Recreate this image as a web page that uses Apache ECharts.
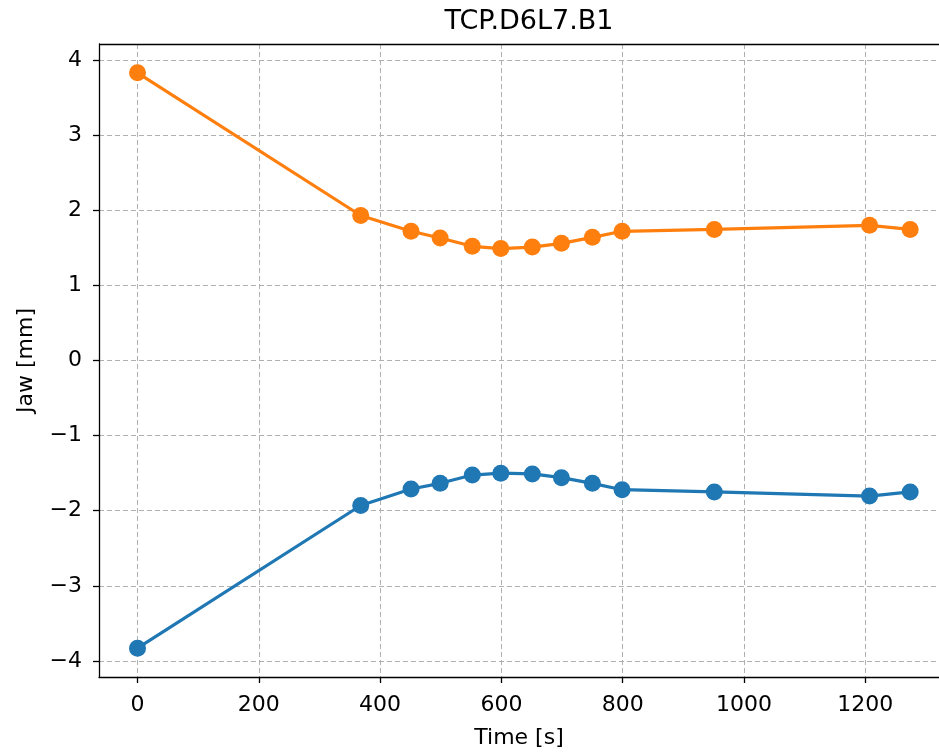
<!DOCTYPE html>
<html>
<head>
<meta charset="utf-8">
<script src="https://cdn.jsdelivr.net/npm/echarts@6/dist/echarts.min.js"></script>
<style>html,body{margin:0;padding:0;background:#fff;}#c{width:939px;height:754px;}</style>
</head>
<body>
<div id="c"></div>
<script>
const titleText = 'TCP.D6L7.B1';
const xName = 'Time [s]';
const yName = 'Jaw [mm]';
const times = [0, 368, 451, 499, 552, 599, 651, 699, 750, 799, 951, 1207, 1274];
const jawUpper = [3.83, 1.93, 1.72, 1.63, 1.52, 1.49, 1.51, 1.56, 1.64, 1.72, 1.745, 1.80, 1.745];
const jawLower = [-3.83, -1.93, -1.71, -1.635, -1.525, -1.50, -1.51, -1.56, -1.635, -1.72, -1.75, -1.805, -1.75];

const xMin = -63.5, xMax = 1321.5;
const yMin = -4.2134, yMax = 4.2134;

const font = 'DejaVu Sans';
const chart = echarts.init(document.getElementById('c'), null, {renderer: 'canvas'});
const pairs = (xs, ys) => xs.map((x, i) => [x, ys[i]]);
const minusFmt = v => String(v).replace('-', '\u2212');

chart.setOption({
  animation: false,
  backgroundColor: '#ffffff',
  title: {
    text: titleText, left: 524, top: 3, textAlign: 'center',
    textStyle: {fontFamily: font, fontSize: 27, fontWeight: 'normal', color: '#000'}
  },
  grid: {left: 99, top: 44, right: 0, height: 634, containLabel: false, show: false},
  xAxis: {
    type: 'value', min: xMin, max: xMax, splitNumber: 7,
    name: xName, nameLocation: 'middle', nameGap: 50,
    nameTextStyle: {fontFamily: font, fontSize: 22, color: '#000'},
    axisLine: {show: true, onZero: false, lineStyle: {color: '#000', width: 1.3}},
    axisTick: {show: true, inside: false, length: 6, lineStyle: {color: '#000', width: 1.3}},
    axisLabel: {show: true, margin: 17, showMinLabel: false, showMaxLabel: false,
      fontFamily: font, fontSize: 22, color: '#000', formatter: minusFmt},
    splitLine: {show: true, lineStyle: {color: '#b0b0b0', width: 1, type: [5, 3]}}
  },
  yAxis: {
    type: 'value', min: yMin, max: yMax, splitNumber: 8,
    name: yName, nameLocation: 'middle', nameGap: 62,
    nameTextStyle: {fontFamily: font, fontSize: 22, color: '#000'},
    axisLine: {show: true, onZero: false, lineStyle: {color: '#000', width: 1.3}},
    axisTick: {show: true, inside: false, length: 6, lineStyle: {color: '#000', width: 1.3}},
    axisLabel: {show: true, margin: 17, showMinLabel: false, showMaxLabel: false,
      fontFamily: font, fontSize: 22, color: '#000', formatter: minusFmt},
    splitLine: {show: true, lineStyle: {color: '#b0b0b0', width: 1, type: [5, 3]}}
  },
  series: [
    {
      type: 'line', data: pairs(times, jawLower), symbol: 'circle', symbolSize: 17,
      lineStyle: {color: '#1f77b4', width: 3.2}, itemStyle: {color: '#1f77b4'}, z: 3
    },
    {
      type: 'line', data: pairs(times, jawUpper), symbol: 'circle', symbolSize: 17,
      lineStyle: {color: '#ff7f0e', width: 3.2}, itemStyle: {color: '#ff7f0e'}, z: 4
    },
    {
      type: 'line', data: [], markLine: {
        silent: true, symbol: 'none', label: {show: false},
        lineStyle: {color: '#000', width: 1.3, type: 'solid'},
        data: [[{coord: [xMin, yMax]}, {coord: [xMax, yMax]}]]
      }
    }
  ]
});
</script>
</body>
</html>
